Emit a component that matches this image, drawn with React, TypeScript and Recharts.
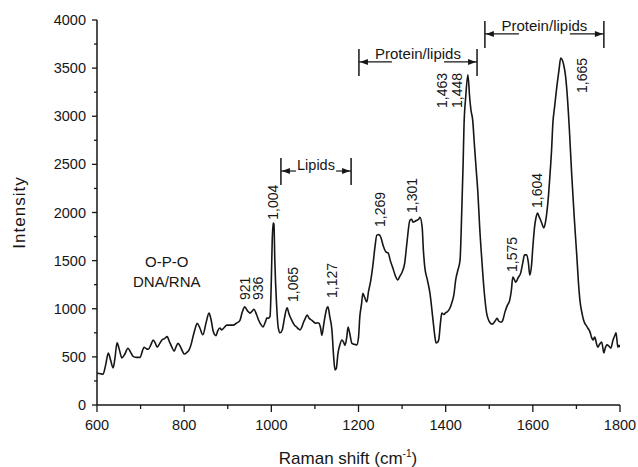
import React from 'react';
import { LineChart, Line, XAxis, YAxis, ReferenceLine, ReferenceDot } from 'recharts';

// Raman shift (cm-1)
const shift = [
  600, 602, 614, 620, 626, 631, 637, 641, 646, 651, 657, 664, 671, 677, 683, 690, 699, 704, 708, 713,
  718, 724, 729, 734, 738, 744, 749, 755, 761, 766, 771, 777, 781, 786, 791, 796, 800, 806, 811, 816,
  820, 825, 830, 836, 843, 850, 857, 862, 867, 873, 877, 882, 886, 891, 898, 905, 912, 920, 928, 933,
  939, 945, 951, 956, 960, 966, 972, 977, 981, 986, 990, 993, 997, 1000, 1002, 1004, 1006, 1008, 1012, 1016,
  1020, 1025, 1030, 1036, 1041, 1047, 1053, 1058, 1062, 1066, 1070, 1073, 1078, 1082, 1087, 1093, 1098, 1102, 1106, 1109,
  1113, 1116, 1120, 1123, 1127, 1130, 1134, 1139, 1143, 1146, 1149, 1153, 1157, 1162, 1166, 1169, 1173, 1176, 1180, 1185,
  1190, 1196, 1200, 1203, 1207, 1210, 1214, 1219, 1223, 1228, 1233, 1238, 1242, 1247, 1251, 1257, 1263, 1268, 1273, 1279,
  1284, 1290, 1295, 1300, 1306, 1311, 1318, 1322, 1325, 1330, 1334, 1338, 1341, 1346, 1349, 1352, 1358, 1364, 1371, 1375,
  1378, 1381, 1384, 1388, 1391, 1396, 1400, 1403, 1409, 1414, 1419, 1423, 1428, 1433, 1437, 1440, 1442, 1446, 1451, 1455,
  1458, 1462, 1466, 1470, 1474, 1478, 1483, 1488, 1494, 1497, 1501, 1507, 1513, 1518, 1522, 1527, 1531, 1536, 1541, 1547,
  1551, 1554, 1558, 1561, 1566, 1572, 1577, 1581, 1586, 1590, 1593, 1597, 1600, 1604, 1607, 1611, 1614, 1618, 1622, 1625,
  1629, 1632, 1636, 1639, 1643, 1646, 1650, 1655, 1660, 1664, 1668, 1671, 1675, 1678, 1684, 1689, 1695, 1701, 1705, 1708,
  1713, 1719, 1722, 1726, 1731, 1735, 1738, 1742, 1746, 1749, 1753, 1758, 1763, 1766, 1770, 1775, 1779, 1784, 1788, 1791,
  1795, 1798, 1800,
];

const intensity = [
  330, 330, 320, 420, 540, 470, 385, 480, 645, 580, 490, 530, 590, 550, 505, 495, 495, 560, 600, 585,
  580, 630, 675, 640, 600, 640, 675, 690, 710, 660, 610, 560, 600, 640, 610, 560, 530, 545, 570, 630,
  705, 790, 850, 800, 730, 850, 955, 880, 760, 720, 770, 800, 780, 800, 830, 830, 830, 850, 880, 960,
  1020, 980, 955, 975, 995, 940, 870, 830, 810, 860, 905, 900, 920, 1300, 1700, 1890, 1880, 1500, 1050, 800,
  750, 780, 900, 1010, 940, 880, 830, 810, 790, 780, 810, 850, 900, 935, 900, 880, 860, 850, 855, 850,
  800, 725, 830, 915, 1000, 1020, 920, 780, 500, 365, 380, 540, 620, 675, 650, 620, 700, 810, 740, 640,
  630, 625, 700, 915, 1050, 1160, 1120, 1070, 1180, 1290, 1450, 1650, 1765, 1770, 1745, 1650, 1590, 1580, 1500, 1420,
  1350, 1300, 1340, 1380, 1475, 1680, 1920, 1930, 1900, 1910, 1920, 1930, 1950, 1850, 1600, 1435, 1300, 1160, 880, 720,
  645, 650, 675, 850, 955, 940, 960, 965, 1000, 1060, 1150, 1300, 1400, 1505, 2025, 2500, 2890, 3200, 3430, 3200,
  3065, 2960, 2700, 2450, 2200, 1850, 1505, 1200, 955, 900, 860, 840, 870, 900, 870, 860, 880, 965, 1030, 1090,
  1200, 1330, 1300, 1275, 1320, 1370, 1480, 1560, 1560, 1470, 1350, 1450, 1640, 1850, 1940, 1995, 1960, 1920, 1870, 1840,
  1900, 1995, 2180, 2370, 2650, 2930, 3100, 3305, 3480, 3605, 3580, 3530, 3420, 3275, 2850, 2410, 1950, 1540, 1250, 1090,
  950, 850, 830, 800, 760, 700, 675, 705, 640, 600, 630, 655, 540, 590, 625, 610, 590, 675, 720, 750,
  600, 620, 600,
];

const xTicks = [600, 700, 800, 900, 1000, 1100, 1200, 1300, 1400, 1500, 1600, 1700, 1800];
const xLabelled = [600, 800, 1000, 1200, 1400, 1600, 1800];
const yTicks = [0, 250, 500, 750, 1000, 1250, 1500, 1750, 2000, 2250, 2500, 2750, 3000, 3250, 3500, 3750, 4000];
const yLabelled = [0, 500, 1000, 1500, 2000, 2500, 3000, 3500, 4000];

// rotated peak labels, anchored at the bottom of the text
const peakLabels = [
  { text: '921', x: 939, y: 1091 },
  { text: '936', x: 969, y: 1091 },
  { text: '1,004', x: 1004, y: 1925 },
  { text: '1,065', x: 1050, y: 1070 },
  { text: '1,127', x: 1139, y: 1112 },
  { text: '1,269', x: 1249, y: 1849 },
  { text: '1,301', x: 1322, y: 1995 },
  { text: '1,463', x: 1391, y: 3086 },
  { text: '1,448', x: 1426, y: 3086 },
  { text: '1,575', x: 1552, y: 1382 },
  { text: '1,604', x: 1609, y: 2047 },
  { text: '1,665', x: 1712, y: 3242 },
];

const notes = [
  { text: 'O-P-O', x: 760, y: 1488 },
  { text: 'DNA/RNA', x: 760, y: 1278 },
];

const regions = [
  { text: 'Lipids', from: 1022, to: 1183, y: 2431, arm: 15, rise: 1, size: 14.5 },
  { text: 'Protein/lipids', from: 1201, to: 1472, y: 3564, arm: 33, rise: 3, size: 15 },
  { text: 'Protein/lipids', from: 1490, to: 1763, y: 3855, arm: 34, rise: 3, size: 15 },
];

const data = shift.map((s, i) => ({ shift: s, intensity: intensity[i] }));

const INK = '#161616';
const FONT = '"Liberation Sans", Arial, sans-serif';

const XTick = (props: any) => {
  const { x, y, payload } = props;
  const major = xLabelled.includes(payload.value);
  return (
    <g>
      <line x1={x} x2={x} y1={y} y2={y + (major ? 7 : 4)} stroke={INK} strokeWidth={1.3} />
      {major && (
        <text x={x} y={y + 25} textAnchor="middle" fontSize={14.5} fontFamily={FONT} fill={INK}>
          {payload.value}
        </text>
      )}
    </g>
  );
};

const YTick = (props: any) => {
  const { x, y, payload } = props;
  const major = yLabelled.includes(payload.value);
  return (
    <g>
      <line x1={x - (major ? 5 : 3)} x2={x} y1={y} y2={y} stroke={INK} strokeWidth={1.3} />
      {major && (
        <text x={x - 11} y={y + 5} textAnchor="end" fontSize={14.5} fontFamily={FONT} fill={INK}>
          {payload.value}
        </text>
      )}
    </g>
  );
};

const Bracket = (props: any) => {
  const { x1, x2, y1, text, arm, rise, size } = props;
  const l = Math.min(x1, x2);
  const r = Math.max(x1, x2);
  const y = y1;
  const cx = (l + r) / 2;
  return (
    <g>
      <line x1={l} x2={l} y1={y - 13} y2={y + 14} stroke={INK} strokeWidth={1.5} />
      <line x1={r} x2={r} y1={y - 13} y2={y + 14} stroke={INK} strokeWidth={1.5} />
      <line x1={l} x2={l + arm} y1={y} y2={y} stroke={INK} strokeWidth={1.2} />
      <line x1={r - arm} x2={r} y1={y} y2={y} stroke={INK} strokeWidth={1.2} />
      <polygon points={`${l + 1},${y} ${l + 9},${y - 3} ${l + 9},${y + 3}`} fill={INK} />
      <polygon points={`${r - 1},${y} ${r - 9},${y - 3} ${r - 9},${y + 3}`} fill={INK} />
      <text x={cx} y={y - rise} textAnchor="middle" fontSize={size} fontFamily={FONT} fill={INK}>
        {text}
      </text>
    </g>
  );
};

const XTitle = (props: any) => {
  const { viewBox } = props;
  return (
    <text x={348} y={viewBox.y + 59} textAnchor="middle" fontSize={17} fontFamily={FONT} fill={INK}>
      Raman shift (cm
      <tspan dy={-7} fontSize={10}>-1</tspan>
      <tspan dy={7}>)</tspan>
    </text>
  );
};

const YTitle = (props: any) => {
  const { viewBox } = props;
  const cy = viewBox.y + viewBox.height / 2;
  return (
    <text
      x={19}
      y={cy}
      transform={`rotate(-90 19 ${cy})`}
      textAnchor="middle"
      dominantBaseline="central"
      fontSize={17}
      letterSpacing={1}
      fontFamily={FONT}
      fill={INK}
    >
      Intensity
    </text>
  );
};

export default function App() {
  return (
    <div style={{ position: 'absolute', left: 0, top: 0, background: '#fff' }}>
      <LineChart
        width={638}
        height={467}
        data={data}
        margin={{ top: 20, right: 18, bottom: 0, left: 0 }}
      >
        <XAxis
          dataKey="shift"
          type="number"
          domain={[600, 1800]}
          ticks={xTicks}
          interval={0}
          allowDataOverflow
          height={62}
          tickSize={0}
          tickMargin={0}
          tickLine={false}
          axisLine={{ stroke: INK, strokeWidth: 1.5 }}
          tick={<XTick />}
          label={{ content: XTitle }}
        />
        <YAxis
          type="number"
          domain={[0, 4000]}
          ticks={yTicks}
          interval={0}
          allowDataOverflow
          width={97}
          tickSize={0}
          tickMargin={0}
          tickLine={false}
          axisLine={{ stroke: INK, strokeWidth: 1.5 }}
          tick={<YTick />}
          label={{ content: YTitle }}
        />
        <Line
          type="monotone"
          dataKey="intensity"
          stroke={INK}
          strokeWidth={1.6}
          dot={false}
          isAnimationActive={false}
        />
        {regions.map((r, i) => (
          <ReferenceLine
            key={`region-${i}`}
            segment={[{ x: r.from, y: r.y }, { x: r.to, y: r.y }]}
            ifOverflow="visible"
            shape={(p: any) => <Bracket {...p} text={r.text} arm={r.arm} rise={r.rise} size={r.size} />}
          />
        ))}
        {peakLabels.map((p, i) => (
          <ReferenceDot
            key={`peak-${i}`}
            x={p.x}
            y={p.y}
            r={0}
            ifOverflow="visible"
            shape={(s: any) => (
              <text
                x={s.cx}
                y={s.cy}
                transform={`rotate(-90 ${s.cx} ${s.cy})`}
                textAnchor="start"
                dominantBaseline="central"
                fontSize={14}
                fontFamily={FONT}
                fill={INK}
              >
                {p.text}
              </text>
            )}
          />
        ))}
        {notes.map((n, i) => (
          <ReferenceDot
            key={`note-${i}`}
            x={n.x}
            y={n.y}
            r={0}
            ifOverflow="visible"
            shape={(s: any) => (
              <text
                x={s.cx}
                y={s.cy}
                textAnchor="middle"
                dominantBaseline="central"
                fontSize={15}
                fontFamily={FONT}
                fill={INK}
              >
                {n.text}
              </text>
            )}
          />
        ))}
      </LineChart>
    </div>
  );
}
